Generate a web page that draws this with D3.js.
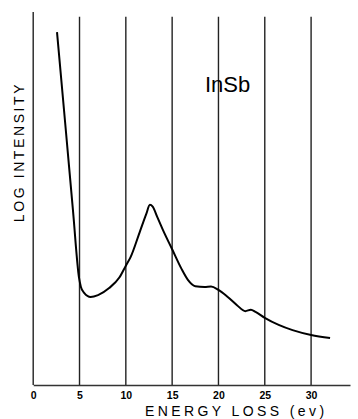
<!DOCTYPE html>
<html>
<head>
<meta charset="utf-8">
<script src="https://cdn.jsdelivr.net/npm/d3@7"></script>
<style>
  body { margin: 0; background: #fff; }
  svg { display: block; font-family: "Liberation Sans", Arial, sans-serif; }
</style>
</head>
<body>
<svg width="358" height="419"></svg>
<script>
// energy loss (eV) and log intensity (arbitrary units)
var energy = [2.57, 3.5, 4.3, 4.95, 5.15, 5.5, 6.2, 7.0, 8.2, 9.3, 10.0, 10.5, 11.5, 12.2, 12.6, 12.9, 13.4, 14.0,
  15.0, 16.0, 16.7, 17.5, 18.5, 19.2, 20.0, 21.0, 22.0, 22.9, 23.5, 24.0, 25.0, 26.5, 28.0, 30.0, 32.05];
var logIntensity = [9.46, 6.89, 4.66, 2.87, 2.63, 2.47, 2.36, 2.41, 2.6, 2.88, 3.2, 3.42, 4.1, 4.58, 4.83, 4.78, 4.5, 4.16,
  3.64, 3.12, 2.82, 2.65, 2.63, 2.64, 2.55, 2.36, 2.14, 1.98, 2.02, 1.96, 1.80, 1.61, 1.47, 1.34, 1.26];
var xTicks = [0, 5, 10, 15, 20, 25, 30];
var gridLines = [5, 10, 15, 20, 25, 30];
var sampleLabel = 'InSb';

var svg = d3.select('svg');

// x: 0 eV sits on the left axis, axis runs on past 34 eV
var x = d3.scaleLinear().domain([0, 34.2]).range([33.2, 350]);
var y = d3.scaleLinear().domain([0, 10]).range([385, 12]);

// vertical grid lines
svg.append('g')
  .selectAll('line')
  .data(gridLines)
  .enter()
  .append('line')
  .attr('x1', function (d) { return x(d); })
  .attr('x2', function (d) { return x(d); })
  .attr('y1', y(9.87))
  .attr('y2', y(0))
  .attr('stroke', '#222')
  .attr('stroke-width', 1.4);

// left axis line
svg.append('line')
  .attr('x1', x(0)).attr('x2', x(0))
  .attr('y1', y(10)).attr('y2', y(0))
  .attr('stroke', '#222').attr('stroke-width', 1.4);

// bottom axis
var xAxis = svg.append('g')
  .attr('transform', 'translate(0,' + y(0) + ')')
  .call(d3.axisBottom(x).tickValues(xTicks).tickSize(0).tickPadding(7));
xAxis.select('.domain').attr('stroke', '#333').attr('stroke-width', 1.6);
xAxis.selectAll('text')
  .attr('fill', '#000')
  .style('font-size', '10.5px')
  .style('font-weight', 'bold')
  .style('font-family', '"Liberation Sans", Arial, sans-serif');

// the curve
var line = d3.line()
  .x(function (d) { return x(d[0]); })
  .y(function (d) { return y(d[1]); })
  .curve(d3.curveMonotoneX);

svg.append('path')
  .datum(d3.zip(energy, logIntensity))
  .attr('d', line)
  .attr('fill', 'none')
  .attr('stroke', '#000')
  .attr('stroke-width', 2)
  .attr('stroke-linejoin', 'round');

// labels
svg.append('text')
  .attr('x', 145).attr('y', 416)
  .style('font-size', '14px')
  .style('letter-spacing', '3.4px')
  .text('ENERGY LOSS (ev)');

svg.append('text')
  .attr('transform', 'translate(24,152) rotate(-90)')
  .attr('text-anchor', 'middle')
  .style('font-size', '14px')
  .style('letter-spacing', '2.6px')
  .text('LOG INTENSITY');

svg.append('text')
  .attr('x', 205).attr('y', 92)
  .style('font-size', '22px')
  .text(sampleLabel);
</script>
</body>
</html>
